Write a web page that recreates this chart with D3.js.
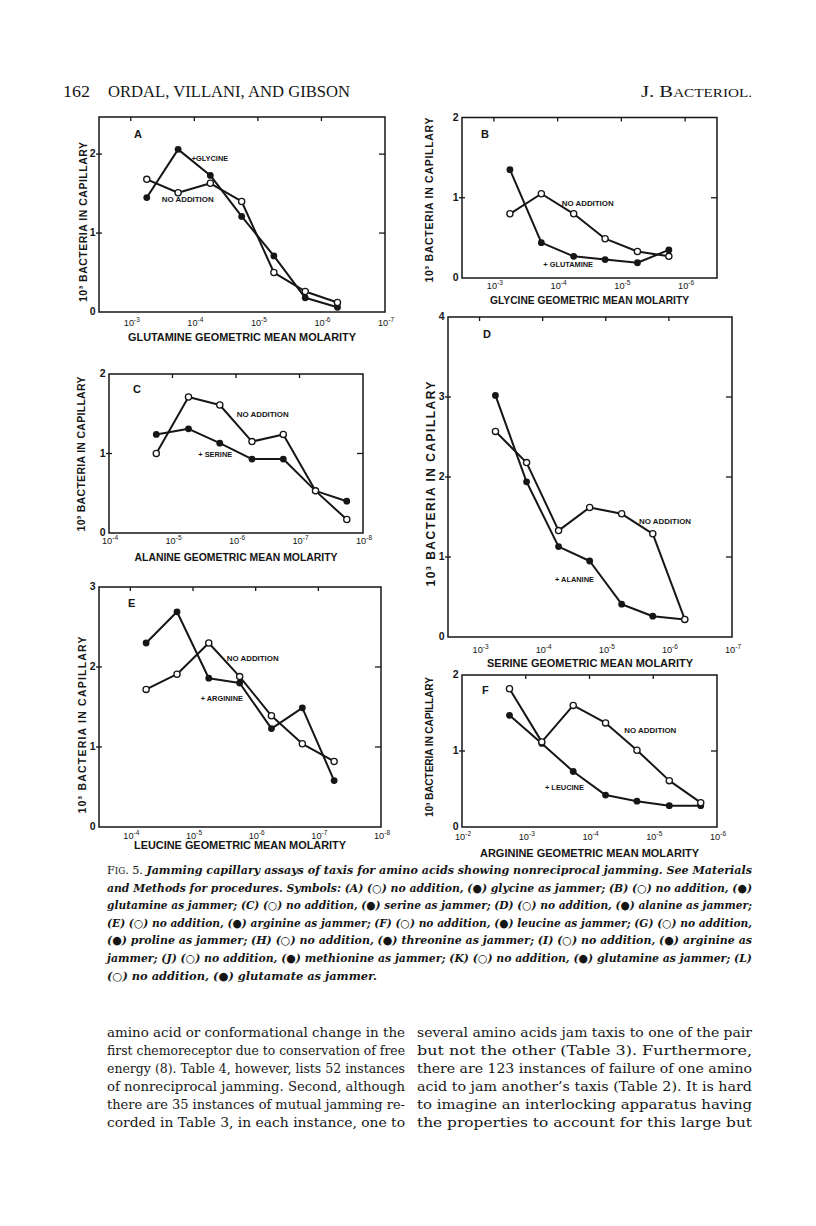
<!DOCTYPE html>
<html><head><meta charset="utf-8">
<script src="https://cdn.jsdelivr.net/npm/d3@7"></script>
<style>body{margin:0;background:#fff}svg{display:block}</style>
</head><body>
<svg id="page" width="816" height="1226"></svg>
<script>
// ---------------- DATA ----------------
// x: geometric mean molarity, y: 10^3 bacteria in capillary
const A_molarity   = [5.6e-4, 1.8e-4, 5.6e-5, 1.8e-5, 5.6e-6, 1.8e-6, 5.6e-7];
const A_noAddition = [1.68, 1.51, 1.63, 1.40, 0.50, 0.26, 0.12];
const A_glycine    = [1.45, 2.06, 1.73, 1.21, 0.71, 0.18, 0.06];

const B_molarity   = [5.6e-4, 1.8e-4, 5.6e-5, 1.8e-5, 5.6e-6, 1.8e-6];
const B_noAddition = [0.80, 1.05, 0.80, 0.49, 0.33, 0.27];
const B_glutamine  = [1.35, 0.44, 0.27, 0.23, 0.19, 0.35];

const C_molarity   = [1.8e-5, 5.6e-6, 1.8e-6, 5.6e-7, 1.8e-7, 5.6e-8, 1.8e-8];
const C_noAddition = [1.00, 1.71, 1.61, 1.15, 1.24, 0.53, 0.17];
const C_serine     = [1.24, 1.31, 1.13, 0.93, 0.93, 0.53, 0.40];

const D_molarity   = [5.6e-4, 1.8e-4, 5.6e-5, 1.8e-5, 5.6e-6, 1.8e-6, 5.6e-7];
const D_noAddition = [2.57, 2.18, 1.33, 1.62, 1.54, 1.29, 0.22];
const D_alanine    = [3.02, 1.94, 1.13, 0.95, 0.41, 0.26, 0.22];

const E_molarity   = [5.6e-5, 1.8e-5, 5.6e-6, 1.8e-6, 5.6e-7, 1.8e-7, 5.6e-8];
const E_noAddition = [1.72, 1.91, 2.30, 1.88, 1.39, 1.04, 0.82];
const E_arginine   = [2.30, 2.69, 1.86, 1.80, 1.23, 1.49, 0.58];

const F_molarity   = [1.8e-3, 5.6e-4, 1.8e-4, 5.6e-5, 1.8e-5, 5.6e-6, 1.8e-6];
const F_noAddition = [1.82, 1.12, 1.60, 1.37, 1.01, 0.61, 0.32];
const F_leucine    = [1.47, 1.10, 0.73, 0.42, 0.34, 0.28, 0.28];

// tick values
const A_xTicks = [1e-3, 1e-4, 1e-5, 1e-6, 1e-7];
const B_xTicks = [1e-3, 1e-4, 1e-5, 1e-6];
const C_xTicks = [1e-4, 1e-5, 1e-6, 1e-7, 1e-8];
const D_xTicks = [1e-3, 1e-4, 1e-5, 1e-6, 1e-7];
const E_xTicks = [1e-4, 1e-5, 1e-6, 1e-7, 1e-8];
const F_xTicks = [1e-2, 1e-3, 1e-4, 1e-5, 1e-6];
const A_yTicks = [0, 1, 2];
const B_yTicks = [0, 1, 2];
const C_yTicks = [0, 1, 2];
const D_yTicks = [0, 1, 2, 3, 4];
const E_yTicks = [0, 1, 2, 3];
const F_yTicks = [0, 1, 2];

const yTitle = "10\u00B3 BACTERIA IN CAPILLARY";

// ---------------- LAYOUT ----------------
const panels = [
  {letter:"A", mol:A_molarity, open:A_noAddition, filled:A_glycine, jammer:"+GLYCINE",
   xTitle:"GLUTAMINE GEOMETRIC MEAN MOLARITY", xTicks:A_xTicks, yTicks:A_yTicks,
   box:[99,117,385,312], xDom:[Math.pow(10,-2.5),1e-7], yMax:2.47,
   letterPos:[35,21], noAddPos:[62.7,85.3], jamPos:[92.7,43.7],
   tickDy:14, xTitleY:341, xTitleW:228, yTitleX:87, yTitleC:222, yTitleW:160, yTitleFs:10.5},
  {letter:"B", mol:B_molarity, open:B_noAddition, filled:B_glutamine, jammer:"+ GLUTAMINE",
   xTitle:"GLYCINE GEOMETRIC MEAN MOLARITY", xTicks:B_xTicks, yTicks:B_yTicks,
   box:[462,117.5,717,278], xDom:[Math.pow(10,-2.5),Math.pow(10,-6.5)], yMax:2,
   letterPos:[19,20], noAddPos:[99.7,88], jamPos:[81.3,149.7],
   tickDy:10.5, xTitleY:304, xTitleW:199, yTitleX:433, yTitleC:200, yTitleW:165, yTitleFs:10.5},
  {letter:"C", mol:C_molarity, open:C_noAddition, filled:C_serine, jammer:"+ SERINE",
   xTitle:"ALANINE GEOMETRIC MEAN MOLARITY", xTicks:C_xTicks, yTicks:C_yTicks,
   box:[109,374,363,533], xDom:[1e-4,1e-8], yMax:2,
   letterPos:[24,19], noAddPos:[127.7,42.7], jamPos:[89.3,82.7],
   tickDy:11, xTitleY:561, xTitleW:203, yTitleX:85, yTitleC:454, yTitleW:155, yTitleFs:10.5},
  {letter:"D", mol:D_molarity, open:D_noAddition, filled:D_alanine, jammer:"+ ALANINE",
   xTitle:"SERINE GEOMETRIC MEAN MOLARITY", xTicks:D_xTicks, yTicks:D_yTicks,
   box:[448,317,732,637], xDom:[Math.pow(10,-2.5),1e-7], yMax:4,
   letterPos:[35,21], noAddPos:[191,207], jamPos:[107,265.3],
   tickDy:16, xTitleY:667, xTitleW:206, yTitleX:435, yTitleC:484, yTitleW:205, yTitleFs:12},
  {letter:"E", mol:E_molarity, open:E_noAddition, filled:E_arginine, jammer:"+ ARGININE",
   xTitle:"LEUCINE GEOMETRIC MEAN MOLARITY", xTicks:E_xTicks, yTicks:E_yTicks,
   box:[99,587,381,827], xDom:[Math.pow(10,-3.5),1e-8], yMax:3,
   letterPos:[29,20], noAddPos:[127.7,74], jamPos:[101.7,114],
   tickDy:12, xTitleY:849, xTitleW:212, yTitleX:86, yTitleC:725, yTitleW:177, yTitleFs:10.5},
  {letter:"F", mol:F_molarity, open:F_noAddition, filled:F_leucine, jammer:"+ LEUCINE",
   xTitle:"ARGININE GEOMETRIC MEAN MOLARITY", xTicks:F_xTicks, yTicks:F_yTicks,
   box:[462,675,717,827], xDom:[1e-2,1e-6], yMax:2,
   letterPos:[20,19], noAddPos:[162.3,57.7], jamPos:[83,115],
   tickDy:13, xTitleY:857, xTitleW:219, yTitleX:433, yTitleC:747, yTitleW:140, yTitleFs:10.2}
];

const INK = "#161616";
const SANS = "'Liberation Sans', Arial, Helvetica, sans-serif";
const SERIF = "'DejaVu Serif', 'Liberation Serif', serif";

const svg = d3.select("#page");
svg.append("rect").attr("width",816).attr("height",1226).attr("fill","#fff");

function drawPanel(p){
  const [L,T,R,B] = p.box;
  const x = d3.scaleLog().domain(p.xDom).range([L,R]);
  const y = d3.scaleLinear().domain([0,p.yMax]).range([B,T]);
  const g = svg.append("g").attr("class","panel-"+p.letter);

  // frame
  g.append("rect").attr("x",L).attr("y",T).attr("width",R-L).attr("height",B-T)
    .attr("fill","none").attr("stroke",INK).attr("stroke-width",1.5);

  // top ticks (inward)
  g.selectAll(".tt").data(p.xTicks.filter(v=>x(v)>L+3 && x(v)<R-3)).join("line")
    .attr("x1",d=>x(d)).attr("x2",d=>x(d)).attr("y1",T).attr("y2",T+4)
    .attr("stroke",INK).attr("stroke-width",1.3);
  // left ticks (crossing) and right ticks (inward)
  const yt = p.yTicks.filter(v=>v>0 && y(v)>T+3);
  g.selectAll(".lt").data(yt).join("line")
    .attr("x1",L-3).attr("x2",L+3).attr("y1",d=>y(d)).attr("y2",d=>y(d))
    .attr("stroke",INK).attr("stroke-width",1.3);
  g.selectAll(".rt").data(yt).join("line")
    .attr("x1",R-6).attr("x2",R).attr("y1",d=>y(d)).attr("y2",d=>y(d))
    .attr("stroke",INK).attr("stroke-width",1.3);

  // y tick labels
  g.selectAll(".yl").data(p.yTicks).join("text")
    .attr("x",L-3.5).attr("y",d=>y(d)+3.3).attr("text-anchor","end")
    .attr("font-family",SANS).attr("font-size",10.5).attr("font-weight","bold").attr("fill",INK)
    .text(d=>d);

  // x tick labels 10^-n
  const xl = g.selectAll(".xl").data(p.xTicks).join("text")
    .attr("x",d=>x(d)+1).attr("y",B+p.tickDy).attr("text-anchor","middle")
    .attr("font-family",SANS).attr("font-size",9.2).attr("fill",INK);
  xl.append("tspan").text("10");
  xl.append("tspan").attr("font-size",6.5).attr("dy",-3.8)
    .text(d=>"-"+Math.round(-Math.log10(d)));

  // x title
  g.append("text").attr("x",(L+R)/2).attr("y",p.xTitleY).attr("text-anchor","middle")
    .attr("font-family",SANS).attr("font-size",11).attr("font-weight","bold").attr("fill",INK)
    .attr("textLength",p.xTitleW).attr("lengthAdjust","spacingAndGlyphs")
    .text(p.xTitle);
  // y title
  g.append("text").attr("transform",`translate(${p.yTitleX},${p.yTitleC}) rotate(-90)`)
    .attr("text-anchor","middle")
    .attr("font-family",SANS).attr("font-size",p.yTitleFs).attr("font-weight","bold").attr("fill",INK)
    .attr("textLength",p.yTitleW).attr("lengthAdjust","spacing")
    .text(yTitle);

  // panel letter & annotations
  g.append("text").attr("x",L+p.letterPos[0]).attr("y",T+p.letterPos[1])
    .attr("font-family",SANS).attr("font-size",11).attr("font-weight","bold").attr("fill",INK)
    .text(p.letter);
  g.append("text").attr("x",L+p.noAddPos[0]).attr("y",T+p.noAddPos[1])
    .attr("font-family",SANS).attr("font-size",7.4).attr("font-weight","bold").attr("fill",INK)
    .attr("textLength",52).attr("lengthAdjust","spacingAndGlyphs")
    .text("NO ADDITION");
  g.append("text").attr("x",L+p.jamPos[0]).attr("y",T+p.jamPos[1])
    .attr("font-family",SANS).attr("font-size",7.4).attr("font-weight","bold").attr("fill",INK)
    .text(p.jammer);

  // series
  const line = d3.line().x(d=>x(d[0])).y(d=>y(d[1]));
  const openPts = p.mol.map((m,i)=>[m,p.open[i]]);
  const fillPts = p.mol.map((m,i)=>[m,p.filled[i]]);
  [openPts, fillPts].forEach(pts=>{
    g.append("path").attr("d",line(pts)).attr("fill","none")
      .attr("stroke",INK).attr("stroke-width",2).attr("stroke-linejoin","round");
  });
  g.selectAll(".fp").data(fillPts).join("circle")
    .attr("cx",d=>x(d[0])).attr("cy",d=>y(d[1])).attr("r",3.4).attr("fill",INK);
  g.selectAll(".op").data(openPts).join("circle")
    .attr("cx",d=>x(d[0])).attr("cy",d=>y(d[1])).attr("r",3.1)
    .attr("fill","#fff").attr("stroke",INK).attr("stroke-width",1.3);
}
panels.forEach(drawPanel);

// ---------------- PAGE TEXT ----------------
// header
svg.append("text").attr("x",63).attr("y",97).attr("font-family","'Liberation Serif', serif")
  .attr("font-size",17).attr("fill",INK).attr("textLength",27).attr("lengthAdjust","spacingAndGlyphs").text("162");
svg.append("text").attr("x",108).attr("y",97).attr("font-family","'Liberation Serif', serif")
  .attr("font-size",17).attr("fill",INK).attr("textLength",242).attr("lengthAdjust","spacingAndGlyphs")
  .text("ORDAL, VILLANI, AND GIBSON");
const jb = svg.append("text").attr("x",641).attr("y",97).attr("font-family","'Liberation Serif', serif")
  .attr("font-size",17).attr("fill",INK).attr("textLength",111).attr("lengthAdjust","spacingAndGlyphs");
jb.append("tspan").text("J. B");
jb.append("tspan").attr("font-size",12.5).text("ACTERIOL.");

// caption
const capX = 107, capW = 645, capY0 = 874, capDY = 17.6;
const captionLines = [
  "Jamming capillary assays of taxis for amino acids showing nonreciprocal jamming. See Materials",
  "and Methods for procedures. Symbols: (A) (\u25CB) no addition, (\u25CF) glycine as jammer; (B) (\u25CB) no addition, (\u25CF)",
  "glutamine as jammer; (C) (\u25CB) no addition, (\u25CF) serine as jammer; (D) (\u25CB) no addition, (\u25CF) alanine as jammer;",
  "(E) (\u25CB) no addition, (\u25CF) arginine as jammer; (F) (\u25CB) no addition, (\u25CF) leucine as jammer; (G) (\u25CB) no addition,",
  "(\u25CF) proline as jammer; (H) (\u25CB) no addition, (\u25CF) threonine as jammer; (I) (\u25CB) no addition, (\u25CF) arginine as",
  "jammer; (J) (\u25CB) no addition, (\u25CF) methionine as jammer; (K) (\u25CB) no addition, (\u25CF) glutamine as jammer; (L)",
  "(\u25CB) no addition, (\u25CF) glutamate as jammer."
];
captionLines.forEach((t,i)=>{
  const tx = svg.append("text").attr("x",capX).attr("y",capY0+i*capDY)
    .attr("font-family",SERIF).attr("font-size",11.2).attr("font-weight","bold").attr("fill",INK);
  if(i<6) tx.attr("textLength",capW).attr("lengthAdjust","spacingAndGlyphs");
  else tx.attr("textLength",270).attr("lengthAdjust","spacingAndGlyphs");
  if(i===0){
    tx.append("tspan").attr("font-style","normal").attr("font-weight","normal").text("F");
    tx.append("tspan").attr("font-style","normal").attr("font-weight","normal").attr("font-size",8.8).text("IG");
    tx.append("tspan").attr("font-style","normal").attr("font-weight","normal").text(". 5. ");
  }
  tx.append("tspan").attr("font-style","italic").text(t);
});

// body text (two columns)
const bodyLeft = [
  "amino acid or conformational change in the",
  "first chemoreceptor due to conservation of free",
  "energy (8). Table 4, however, lists 52 instances",
  "of nonreciprocal jamming. Second, although",
  "there are 35 instances of mutual jamming re-",
  "corded in Table 3, in each instance, one to"
];
const bodyRight = [
  "several amino acids jam taxis to one of the pair",
  "but not the other (Table 3). Furthermore,",
  "there are 123 instances of failure of one amino",
  "acid to jam another\u2019s taxis (Table 2). It is hard",
  "to imagine an interlocking apparatus having",
  "the properties to account for this large but"
];
const bodyY0 = 1037, bodyDY = 18;
[[bodyLeft,107,298],[bodyRight,417,335]].forEach(([lines,x0,w])=>{
  lines.forEach((t,i)=>{
    svg.append("text").attr("x",x0).attr("y",bodyY0+i*bodyDY)
      .attr("font-family",SERIF).attr("font-size",12).attr("fill",INK)
      .attr("textLength",w).attr("lengthAdjust","spacingAndGlyphs").text(t);
  });
});
</script>
</body></html>
